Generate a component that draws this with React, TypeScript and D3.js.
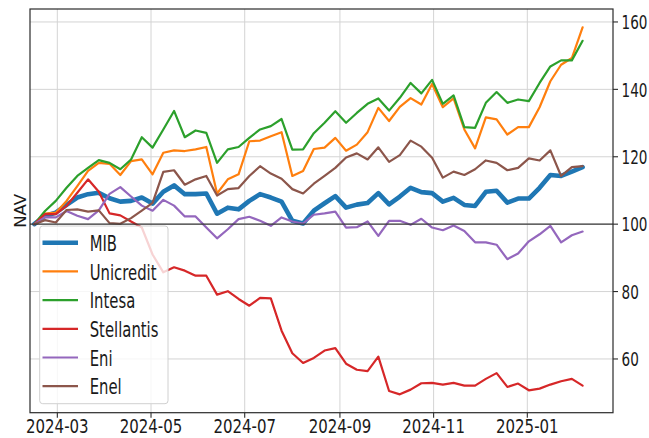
import * as d3 from 'd3';

const W = 649;
const H = 438;

// weekly NAV, rebased to 100
const seriesNames = ['MIB', 'Unicredit', 'Intesa', 'Stellantis', 'Eni', 'Enel'];
const seriesColors = ['#1f77b4', '#ff7f0e', '#2ca02c', '#d62728', '#9467bd', '#8c564b'];
const seriesWidths = [4.6, 2.2, 2.2, 2.2, 2.2, 2.2];

const mib = [100, 102.5, 103.4, 105.7, 107.9, 108.9, 109.3, 107.7, 106.7, 106.9, 107.9, 106.1, 109.6, 111.5, 108.9, 108.9, 109.1, 103.1, 104.9, 104.4, 106.9, 108.9, 107.9, 106.7, 101, 100.2, 104, 106.2, 108.3, 104.9, 105.8, 106.3, 109.2, 105.9, 108.2, 110.8, 109.5, 109.2, 106.7, 107.8, 105.7, 105.4, 109.6, 109.9, 106.4, 107.6, 107.6, 110.8, 114.6, 114.3, 115.6, 116.9];
const unicredit = [100, 103.1, 103.4, 106.9, 111.3, 115.8, 118.2, 117.9, 114.6, 118.7, 119.2, 114.8, 121.2, 121.9, 121.7, 122.2, 122.9, 109.1, 113.3, 114.8, 124.6, 124.8, 126.1, 127.3, 114.3, 115.8, 122.3, 122.7, 125.6, 121.8, 123.6, 127.3, 134.5, 130.6, 134.8, 137.4, 135.5, 141.6, 134.7, 137.3, 128.1, 122.5, 131.7, 131.1, 126.6, 128.8, 128.8, 134.7, 142.4, 147.3, 149.3, 158.4];
const intesa = [100, 103.9, 106.9, 110.8, 114.3, 116.7, 119, 118.2, 116.3, 119.2, 125.8, 122.7, 128.1, 133.6, 125.8, 127.8, 127.1, 118.2, 122.2, 122.9, 125.6, 128.1, 129.1, 131.2, 122.1, 122.2, 127, 130.1, 133.5, 130.1, 133, 135.7, 137.3, 133.7, 137.5, 141.9, 138.8, 142.8, 135.7, 138.2, 128.8, 128.6, 136, 139.2, 136, 137, 136.5, 141.9, 146.8, 148.6, 148.6, 154.4];
const stellantis = [100, 103, 103, 105.4, 109.3, 113.3, 109.6, 103.2, 102.6, 100.8, 99, 91, 85.7, 87.2, 86.2, 84.7, 84.7, 79.1, 80.1, 77.8, 75.8, 78.1, 78, 68.4, 61.7, 58.8, 60.3, 62.5, 63.2, 58.6, 56.8, 56.4, 60.7, 50.5, 49.5, 50.9, 52.8, 52.9, 52.4, 52.9, 52.1, 52.1, 54.1, 55.8, 51.7, 52.7, 50.7, 51.2, 52.4, 53.4, 54.1, 52.1];
const eni = [100, 102.1, 102, 103.9, 102.5, 101.5, 104.1, 109, 111, 108.2, 105.5, 104, 107.2, 105.5, 102.3, 102.3, 99, 95.8, 98.5, 101.5, 102.2, 101, 99.5, 102, 100.8, 100.2, 102.8, 103.2, 103.7, 99, 99.1, 100.8, 96.5, 101, 101, 99.8, 101.6, 99, 98.2, 99.6, 98, 94.6, 94.6, 93.9, 89.6, 91.3, 94.9, 97, 99.5, 94.6, 96.7, 97.8];
const enel = [100, 101.2, 100.5, 104.2, 104.4, 103.7, 104.1, 100.3, 100.1, 101.8, 104, 106.3, 115.5, 116, 111.7, 113.3, 114.3, 108.5, 110.4, 110.7, 114.3, 117.2, 115, 113.5, 110.4, 109.1, 112, 114.3, 116.7, 119.8, 121, 119.2, 122.8, 118.5, 120.5, 124.8, 123, 119.7, 113.8, 115.6, 114.6, 116.3, 118.9, 118.2, 116, 116.7, 119.5, 118.9, 121.9, 114.3, 116.9, 117.2];
const seriesValues = [mib, unicredit, intesa, stellantis, eni, enel];

// one observation per week (Thursdays), 2024-02-15 .. 2025-02-06
const weekDates = d3.timeThursday.range(new Date(2024, 1, 15), new Date(2025, 1, 7));

const xTicks = ['2024-03', '2024-05', '2024-07', '2024-09', '2024-11', '2025-01'];
const yTicks = [60, 80, 100, 120, 140, 160];

const plot = { left: 30, right: 613, top: 9, bottom: 412.7 };
const FONT = '"DejaVu Sans", sans-serif';

export default function App() {
  const x = d3
    .scaleTime()
    .domain([new Date(2024, 1, 12, 5), new Date(2025, 1, 25, 19)])
    .range([plot.left, plot.right]);
  const all = seriesValues.flat();
  const lo = d3.min(all)!;
  const hi = d3.max(all)!;
  const pad = (hi - lo) * 0.05;
  const y = d3.scaleLinear().domain([lo - pad, hi + pad]).range([plot.bottom, plot.top]);
  const parse = d3.timeParse('%Y-%m');

  const line = d3
    .line<number>()
    .x((_, i) => x(weekDates[i]))
    .y((d) => y(d));

  const legendX = 39.7;
  const legendY = 226;
  const rowH = 28.7;

  return (
    <div style={{ position: 'fixed', left: 0, top: 0 }}>
      <svg width={W} height={H} style={{ display: 'block', background: '#fff' }}>
        <defs>
          <clipPath id="plotclip">
            <rect x={plot.left} y={plot.top} width={plot.right - plot.left} height={plot.bottom - plot.top} />
          </clipPath>
        </defs>
        {/* grid */}
        <g stroke="#d4d4d4" strokeWidth={1}>
          {xTicks.map((t) => (
            <line key={t} x1={x(parse(t)!)} x2={x(parse(t)!)} y1={plot.top} y2={plot.bottom} />
          ))}
          {yTicks.map((t) => (
            <line key={t} x1={plot.left} x2={plot.right} y1={y(t)} y2={y(t)} />
          ))}
        </g>
        {/* series */}
        <g clipPath="url(#plotclip)" fill="none" strokeLinejoin="round" strokeLinecap="round">
          {seriesValues.map((vals, k) => (
            <path key={seriesNames[k]} d={line(vals)!} stroke={seriesColors[k]} strokeWidth={seriesWidths[k]} />
          ))}
          <line x1={plot.left} x2={plot.right} y1={y(100)} y2={y(100)} stroke="#3a3a3a" strokeWidth={1.3} />
        </g>
        {/* frame */}
        <rect
          x={plot.left}
          y={plot.top}
          width={plot.right - plot.left}
          height={plot.bottom - plot.top}
          fill="none"
          stroke="#2b2b2b"
          strokeWidth={1.2}
        />
        {/* x axis */}
        <g fontFamily={FONT} fontSize={20} fill="#1a1a1a">
          {xTicks.map((t) => {
            const px = x(parse(t)!);
            return (
              <g key={t}>
                <line x1={px} x2={px} y1={plot.bottom} y2={plot.bottom + 5} stroke="#2b2b2b" strokeWidth={1.1} />
                <text transform={`translate(${px},433) scale(0.75,1)`} textAnchor="middle">
                  {t}
                </text>
              </g>
            );
          })}
        </g>
        {/* y axis on the right */}
        <g fontFamily={FONT} fontSize={20} fill="#1a1a1a">
          {yTicks.map((t) => (
            <g key={t}>
              <line x1={plot.right} x2={plot.right + 5} y1={y(t)} y2={y(t)} stroke="#2b2b2b" strokeWidth={1.1} />
              <text transform={`translate(${plot.right + 8.5},${y(t)}) scale(0.68,1)`} dy="0.36em">
                {t}
              </text>
            </g>
          ))}
        </g>
        <text
          transform={`translate(26,${(plot.top + plot.bottom) / 2}) rotate(-90)`}
          textAnchor="middle"
          fontFamily={FONT}
          fontSize={16.5}
          fill="#1a1a1a"
        >
          NAV
        </text>
        {/* legend */}
        <g>
          <rect
            x={legendX}
            y={legendY}
            width={128.3}
            height={177.7}
            rx={3}
            fill="#fff"
            fillOpacity={0.8}
            stroke="#d0d0d0"
            strokeWidth={1}
          />
          {seriesNames.map((n, k) => {
            const cy = legendY + 16.7 + k * rowH;
            return (
              <g key={n}>
                <line x1={42.5} x2={78} y1={cy} y2={cy} stroke={seriesColors[k]} strokeWidth={seriesWidths[k]} />
                <text
                  transform={`translate(89.7,${cy + 8.2}) scale(0.69,1)`}
                  fontFamily={FONT}
                  fontSize={21.5}
                  fill="#1a1a1a"
                >
                  {n}
                </text>
              </g>
            );
          })}
        </g>
      </svg>
    </div>
  );
}
